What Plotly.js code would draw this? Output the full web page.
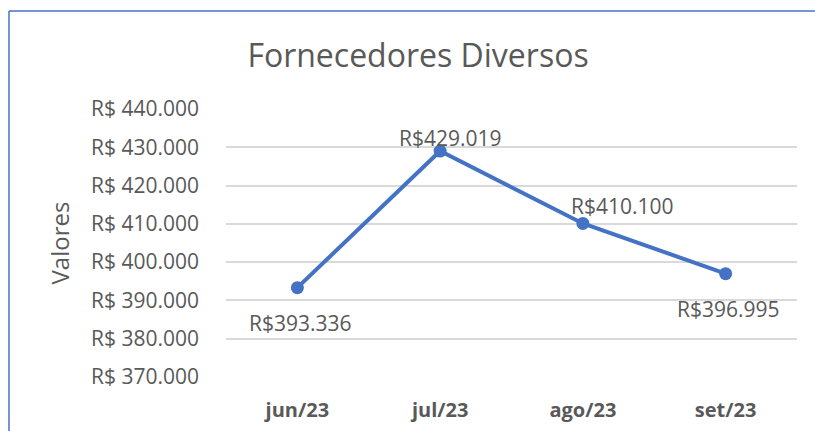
<!DOCTYPE html>
<html>
<head>
<meta charset="utf-8">
<script src="https://cdn.plot.ly/plotly-3.0.1.min.js"></script>
<style>
  html, body { margin: 0; padding: 0; background: #ffffff; }
  #chart { width: 815px; height: 431px; }
</style>
</head>
<body>
<div id="chart"></div>
<script>
const categories = ['jun/23', 'jul/23', 'ago/23', 'set/23'];
const values = [393336, 429019, 410100, 396995];
const valueLabels = ['R$393.336', 'R$429.019', 'R$410.100', 'R$396.995'];
const tickValues = [370000, 380000, 390000, 400000, 410000, 420000, 430000, 440000];
const tickLabels = ['R$ 370.000', 'R$ 380.000', 'R$ 390.000', 'R$ 400.000', 'R$ 410.000', 'R$ 420.000', 'R$ 430.000', 'R$ 440.000'];
const labelShiftX = [3, 10, 40, 3];
const labelShiftY = [-35, 13, 17, -35];

const FONT = 'Open Sans, Noto Sans, sans-serif';
const GREY = '#595959';
const BLUE = '#4472C4';

const trace = {
  type: 'scatter',
  mode: 'lines+markers',
  x: categories,
  y: values,
  line: { color: BLUE, width: 4 },
  marker: { color: BLUE, size: 13 },
  hoverinfo: 'skip'
};

const annotations = categories.map((c, i) => ({
  x: c, y: values[i], xref: 'x', yref: 'y',
  text: valueLabels[i], showarrow: false,
  xshift: labelShiftX[i], yshift: labelShiftY[i],
  font: { family: FONT, size: 21, color: GREY }
}));

const layout = {
  width: 815, height: 431,
  margin: { l: 226, r: 18, t: 109, b: 54 },
  paper_bgcolor: '#ffffff', plot_bgcolor: '#ffffff',
  showlegend: false,
  title: {
    text: 'Fornecedores Diversos',
    x: 418 / 815, xanchor: 'center', xref: 'container',
    y: 1 - 56 / 431, yanchor: 'middle', yref: 'container',
    font: { family: FONT, size: 32, color: GREY }
  },
  xaxis: {
    type: 'category',
    range: [-0.5, 3.5],
    showgrid: false, zeroline: false, showline: false,
    ticks: '',
    ticklabelstandoff: 19,
    tickfont: { family: FONT, size: 20, color: GREY, weight: 'bold' }
  },
  yaxis: {
    range: [370000, 440000],
    tickvals: tickValues,
    ticktext: tickLabels,
    showgrid: true, gridcolor: '#D9D9D9', gridwidth: 2,
    zeroline: false, showline: false, ticks: '',
    ticklabelstandoff: 26,
    tickfont: { family: FONT, size: 21, color: GREY },
    title: { text: 'Valores', standoff: 14, font: { family: FONT, size: 24, color: GREY } }
  },
  annotations: annotations,
  shapes: [
    { type: 'line', xref: 'paper', yref: 'paper', x0: (9 - 226) / 571, x1: 1.2, y0: (377 - 11) / 268, y1: (377 - 11) / 268, line: { color: BLUE, width: 1.5 } },
    { type: 'line', xref: 'paper', yref: 'paper', x0: (9 - 226) / 571, x1: (9 - 226) / 571, y0: (377 - 11) / 268, y1: -0.3, line: { color: BLUE, width: 1.5 } }
  ]
};

Plotly.newPlot('chart', [trace], layout, { displayModeBar: false, staticPlot: true });
</script>
</body>
</html>
